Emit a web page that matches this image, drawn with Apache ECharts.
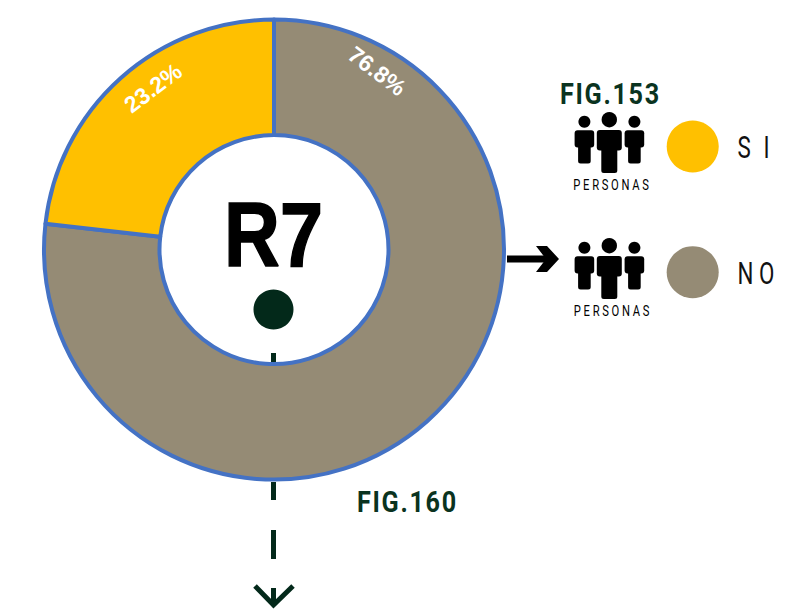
<!DOCTYPE html>
<html><head><meta charset="utf-8">
<script src="https://cdn.jsdelivr.net/npm/echarts@6/dist/echarts.min.js"></script>
<style>
html,body{margin:0;padding:0;background:#fff}
#c{width:785px;height:613px}
text[fill="#0a3320"]{letter-spacing:2px}
text[fill="#010101"]{letter-spacing:3.4px}
text[fill="#111111"]{letter-spacing:5px}
</style></head><body><div id="c"></div>
<script>
const categories = ['NO', 'SI'];
const values = [76.8, 23.2];
const colors = ['#958B75', '#FFC000'];
const legendLabels = ['S I', 'N O'];
const legendInk = ['#111111', '#121212'];
const figLabels = ['FIG.153', 'FIG.160'];
const centerLabel = 'R7';
const iconLabel = 'PERSONAS';
const DARK = '#03291A', FIG = '#0a3320', INK = '#000';
const narrow = 'Roboto,"Liberation Sans",sans-serif';

const chart = echarts.init(document.getElementById('c'), null, {renderer: 'svg'});

function person(x, top, headR, bodyW, armB, bodyB, legW) {
  const l = x - bodyW / 2, a = legW / 2, h = top + headR;
  const sh = h + headR + 2.5;
  return [
    {type: 'circle', shape: {cx: x, cy: h, r: headR}, style: {fill: INK}},
    {type: 'rect', shape: {x: l, y: sh, width: bodyW, height: armB - sh - 1, r: 3}, style: {fill: INK}},
    {type: 'rect', shape: {x: x - a, y: sh + 5, width: legW, height: bodyB - sh - 5, r: 2.5}, style: {fill: INK}}
  ];
}
function icon(dy, tx) {
  return {type: 'group', y: dy, children: [
    ...person(584.4, 115.7, 6, 19.6, 148.5, 163.5, 12.6),
    ...person(634.4, 115.7, 6, 19.6, 148.5, 163.5, 12.6),
    ...person(609.3, 112, 7.7, 25, 151.5, 173, 16),
    {type: 'text', x: tx, y: 185, scaleX: 0.8, style: {text: iconLabel, x: 0, y: 0, fill: '#010101', font: '14px ' + narrow, align: 'center', verticalAlign: 'middle'}}
  ]};
}
function seg(x1, y1, x2, y2, color, w) {
  return {type: 'line', shape: {x1, y1, x2, y2}, style: {stroke: color, lineWidth: w}};
}
function legend(i, row) {
  const cy = 146.5 + row * 125.7;
  return [
    {type: 'circle', shape: {cx: 692.7, cy, r: 26}, style: {fill: colors[i]}},
    {type: 'text', x: 737.5, y: cy + 1, scaleX: 0.72, style: {text: legendLabels[row], x: 0, y: 0, fill: legendInk[row], font: '31px ' + narrow, align: 'left', verticalAlign: 'middle'}}
  ];
}
function fig(i, x, y) {
  return {type: 'text', x, y, scaleX: 0.84, style: {text: figLabels[i], x: 0, y: 0, fill: FIG, font: 'bold 30px ' + narrow, align: 'left', verticalAlign: 'middle'}};
}

chart.setOption({
  animation: false,
  backgroundColor: '#fff',
  series: [{
    type: 'pie', center: [274, 249.6], radius: [114.5, 230], startAngle: 90, clockwise: true,
    silent: true,
    data: categories.map((name, i) => ({name, value: values[i], itemStyle: {color: colors[i]}})),
    itemStyle: {borderColor: '#4472C4', borderWidth: 4},
    label: {show: true, position: 'inside', formatter: p => p.value.toFixed(1) + '%', color: '#fff', fontFamily: '"Liberation Sans",sans-serif', fontWeight: 'bold', fontSize: 23},
    labelLine: {show: false},
    labelLayout: p => p.dataIndex === 0
      ? {x: 377, y: 71, rotate: -37, align: 'center', verticalAlign: 'middle'}
      : {x: 153, y: 88, rotate: 37, align: 'center', verticalAlign: 'middle'}
  }],
  graphic: {elements: [
    {type: 'text', z: 5, x: 273.5, y: 235, scaleX: 0.86, style: {text: centerLabel, x: 0, y: 0, fill: '#000', stroke: '#000', lineWidth: 1.5, font: 'bold 90px "Liberation Sans",sans-serif', align: 'center', verticalAlign: 'middle'}},
    {type: 'circle', z: 5, shape: {cx: 273.5, cy: 309.5, r: 20}, style: {fill: DARK}},
    seg(273.5, 353, 273.5, 364, DARK, 5),
    seg(273.5, 482, 273.5, 500, DARK, 5),
    seg(273.5, 530, 273.5, 559, DARK, 5),
    seg(273.5, 588, 273.5, 605, DARK, 5),
    {type: 'polyline', shape: {points: [[255, 586], [273.5, 605], [293, 586]]}, style: {stroke: DARK, lineWidth: 5, fill: null}},
    seg(507, 259, 551, 259, INK, 7),
    {type: 'polygon', shape: {points: [[536, 246], [547, 246], [559, 259], [547, 272], [536, 272], [546, 259]]}, style: {fill: INK}},
    fig(0, 560, 94), fig(1, 357, 502),
    icon(0, 612.5), icon(126, 613),
    ...legend(1, 0), ...legend(0, 1)
  ]}
});
</script></body></html>
